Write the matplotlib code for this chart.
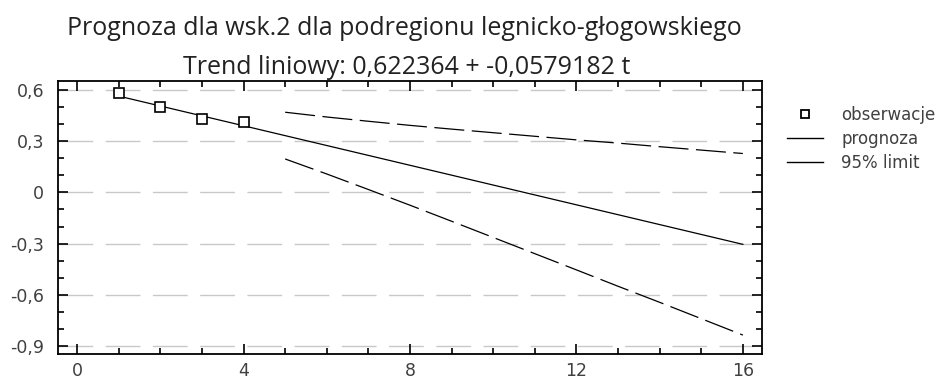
import matplotlib
matplotlib.use("Agg")
import matplotlib.pyplot as plt
from matplotlib.ticker import MultipleLocator, FuncFormatter
from matplotlib.lines import Line2D

plt.rcParams['font.family'] = ['DejaVu Sans']

# observations
obs_t = [1, 2, 3, 4]
obs_y = [0.58, 0.50, 0.43, 0.41]

# linear trend forecast
trend_t = [1, 16]
trend_y = [0.5644, -0.3043]

# 95% limits
lim_t = [5, 6, 7, 8, 9, 10, 11, 12, 13, 14, 15, 16]
upper = [0.470, 0.442, 0.417, 0.393, 0.371, 0.350, 0.329, 0.308, 0.289, 0.268, 0.248, 0.228]
lower = [0.196, 0.108, 0.017, -0.075, -0.169, -0.264, -0.359, -0.454, -0.550, -0.644, -0.740, -0.836]

title1 = "Prognoza dla wsk.2 dla podregionu legnicko-głogowskiego"
title2 = "Trend liniowy: 0,622364 + -0,0579182 t"

fig = plt.figure(figsize=(9.5, 3.83), dpi=100)
ax = fig.add_axes([58/950, 1-354/383, (762-58)/950, (354-81)/383])

ax.set_xlim(-0.46, 16.46)
ax.set_ylim(-0.947, 0.653)

for y in [-0.9, -0.6, -0.3, 0, 0.3, 0.6]:
    ax.axhline(y, color='#c8c8c8', lw=1.0, dashes=(25, 9), zorder=0)

ax.plot(trend_t, trend_y, color='black', lw=0.9)
ax.plot(lim_t, upper, color='black', lw=0.9, dashes=(24, 6))
ax.plot(lim_t, lower, color='black', lw=0.9, dashes=(24, 6))
ax.plot(obs_t, obs_y, ls='none', marker='s', ms=6.5, mfc='white', mec='black', mew=1.2)

ax.xaxis.set_major_locator(MultipleLocator(4))
ax.xaxis.set_minor_locator(MultipleLocator(1))
ax.yaxis.set_major_locator(MultipleLocator(0.3))
ax.yaxis.set_minor_locator(MultipleLocator(0.1))
fmt = FuncFormatter(lambda v, p: ('%g' % round(v, 2)).replace('.', ','))
ax.xaxis.set_major_formatter(fmt)
ax.yaxis.set_major_formatter(fmt)
ax.tick_params(which='both', direction='in', top=True, right=True, colors='black',
               labelcolor='#404040', labelsize=12.5, width=1.2)
ax.tick_params(which='major', length=7)
ax.tick_params(which='minor', length=4)
ax.tick_params(axis='y', which='major', pad=10)
ax.tick_params(axis='x', which='major', pad=6)
for s in ax.spines.values():
    s.set_linewidth(1.3)

fig.text(0.426, 1-35/383, title1, ha='center', va='baseline', fontsize=18,
         color='#222222', family=['Open Sans', 'DejaVu Sans'])
fig.text(0.428, 1-74/383, title2, ha='center', va='baseline', fontsize=18,
         color='#222222', family=['Open Sans', 'DejaVu Sans'])

handles = [
    Line2D([], [], ls='none', marker='s', ms=5.5, mfc='white', mec='black', mew=1.3),
    Line2D([], [], color='black', lw=1),
    Line2D([], [], color='black', lw=1),
]
fig.legend(handles, ['obserwacje', 'prognoza', '95% limit'], loc='upper left',
           bbox_to_anchor=(787/950, 1-106/383), frameon=False, fontsize=12,
           borderpad=0, borderaxespad=0, handlelength=2.15, handletextpad=1.1,
           labelspacing=0.35, labelcolor='#404040')

fig.savefig('out.png', dpi=100)
